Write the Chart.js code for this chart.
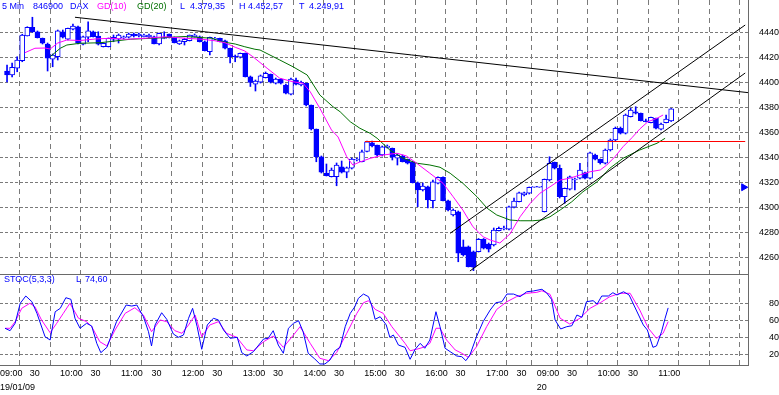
<!DOCTYPE html>
<html><head><meta charset="utf-8"><title>DAX 5 Min</title>
<script src="https://cdn.jsdelivr.net/npm/chart.js@4.4.1/dist/chart.umd.min.js"></script>
<style>
html,body{margin:0;padding:0;background:#fff;overflow:hidden}
#wrap{position:relative;width:779px;height:395px;background:#fff}
#c{position:absolute;left:0;top:0}
.t{position:absolute;font:9px/9px "Liberation Sans",Arial,sans-serif;white-space:pre;color:#0000ff}
</style></head><body>
<div id="wrap">
<canvas id="c" width="779" height="395"></canvas>
<span class="t" style="left:2px;top:2px">5 Min</span>
<span class="t" style="left:33px;top:2px">846900</span>
<span class="t" style="left:70px;top:2px">DAX</span>
<span class="t" style="left:97px;top:2px;color:#ff00ff">GD(10)</span>
<span class="t" style="left:137px;top:2px;color:#007000">GD(20)</span>
<span class="t" style="left:180px;top:2px">L</span>
<span class="t" style="left:190px;top:2px">4.379,35</span>
<span class="t" style="left:239px;top:2px">H</span>
<span class="t" style="left:248px;top:2px">4.452,57</span>
<span class="t" style="left:299px;top:2px">T</span>
<span class="t" style="left:309px;top:2px">4.249,91</span>
<span class="t" style="left:4px;top:275px">STOC(5,3,3)</span>
<span class="t" style="left:76px;top:275px">L</span>
<span class="t" style="left:85px;top:275px">74,60</span>
</div>
<script>
// ---------- data (5-minute bars, index 0 = 19/01/09 09:00) ----------
const opens = [4409.6,4406.4,4411.8,4417.8,4437.6,4444.6,4441.0,4435.8,4431.2,4419.0,
 4421.0,4441.0,4435.0,4443.0,4445.0,4431.0,4436.6,4441.0,4437.6,4429.0,
 4429.0,4435.0,4435.0,4436.2,4436.6,4439.2,4437.6,4437.0,4436.8,4437.0,
 4431.2,4435.6,4439.2,4436.6,4431.2,4433.0,4433.8,4437.0,4437.0,4433.0,
 4425.0,4435.0,4435.8,4433.8,4427.8,4421.6,4420.6,4423.8,4405.0,4399.0,
 4400.6,4404.2,4407.0,4399.8,4403.2,4398.4,4391.0,4402.4,4398.4,4399.8,
 4382.4,4363.2,4341.0,4327.8,4325.0,4325.0,4333.0,4328.6,4331.8,4338.4,
 4337.0,4345.2,4352.2,4350.4,4342.4,4348.4,4347.8,4339.8,4341.6,4339.0,
 4337.0,4320.2,4314.4,4317.0,4305.8,4319.8,4324.6,4305.8,4294.4,4297.0,
 4269.0,4269.0,4265.0,4265.0,4275.0,4271.2,4270.4,4281.8,4283.2,4283.0,
 4300.6,4305.0,4310.4,4311.8,4316.6,4316.6,4297.0,4322.4,4336.6,4331.8,
 4309.0,4315.0,4322.4,4323.8,4328.2,4323.8,4342.4,4339.0,4335.8,4346.4,
 4354.4,4363.8,4359.8,4373.0,4377.0,4375.8,4369.8,4368.2,4371.8,4363.0,
 4368.2,4369.6];
const highs = [4414.4,4416.0,4421.0,4439.0,4445.0,4452.6,4441.6,4436.0,4432.0,4423.2,
 4442.4,4442.4,4444.0,4447.2,4445.6,4437.6,4449.0,4441.6,4441.0,4432.0,
 4436.0,4438.4,4439.2,4437.6,4440.0,4440.0,4440.0,4439.2,4439.2,4437.6,
 4440.0,4441.0,4439.2,4436.8,4434.4,4435.8,4438.4,4439.2,4437.6,4433.6,
 4436.8,4436.5,4436.0,4434.4,4428.0,4422.4,4424.0,4424.0,4405.6,4402.4,
 4406.4,4408.8,4407.2,4404.0,4403.6,4399.2,4404.0,4404.0,4401.6,4400.0,
 4382.4,4363.2,4341.6,4335.2,4332.0,4336.0,4337.6,4332.8,4340.0,4340.0,
 4346.4,4353.6,4353.6,4350.4,4349.6,4350.4,4348.0,4343.2,4342.4,4339.2,
 4337.2,4320.8,4320.0,4317.6,4322.4,4325.0,4325.0,4306.4,4299.2,4297.6,
 4274.4,4269.6,4265.6,4275.6,4275.6,4272.0,4284.0,4284.8,4285.6,4301.6,
 4308.0,4312.8,4312.8,4316.8,4316.6,4316.6,4323.2,4341.0,4336.8,4334.4,
 4316.0,4325.6,4324.0,4335.8,4328.8,4344.8,4343.2,4339.2,4347.2,4355.2,
 4364.8,4364.8,4375.2,4379.8,4381.0,4376.0,4371.2,4372.8,4372.0,4368.0,
 4374.4,4379.6];
const lows = [4400.8,4404.8,4409.0,4417.0,4437.6,4440.5,4436.0,4431.2,4409.6,4413.0,
 4418.4,4436.0,4434.4,4442.4,4431.2,4430.4,4433.0,4436.8,4430.4,4428.8,
 4428.8,4433.0,4432.0,4435.2,4436.0,4436.8,4436.8,4436.8,4436.0,4431.2,
 4430.4,4435.4,4436.0,4432.0,4430.8,4430.4,4433.6,4436.8,4432.8,4425.6,
 4422.4,4434.5,4432.8,4427.2,4416.0,4417.0,4420.0,4404.8,4397.2,4393.6,
 4400.0,4404.0,4400.0,4399.2,4399.2,4391.2,4390.4,4398.4,4397.6,4381.6,
 4362.4,4337.0,4328.0,4325.6,4324.8,4317.8,4328.0,4324.2,4331.2,4337.6,
 4336.8,4344.8,4348.8,4341.6,4341.6,4348.0,4338.4,4334.4,4336.8,4335.2,
 4320.0,4301.0,4313.6,4300.0,4300.0,4319.2,4305.6,4297.6,4293.6,4257.0,
 4261.6,4252.8,4249.9,4264.8,4267.2,4264.8,4269.6,4281.6,4282.4,4282.4,
 4300.0,4304.8,4309.6,4311.2,4316.6,4316.6,4296.8,4321.6,4331.2,4308.0,
 4303.8,4314.4,4314.4,4323.2,4323.2,4323.2,4338.4,4335.2,4335.2,4345.6,
 4353.6,4359.2,4359.2,4372.8,4375.2,4369.6,4368.8,4368.0,4363.2,4362.4,
 4368.0,4369.2];
const closes = [4406.4,4412.6,4418.4,4438.4,4444.6,4441.0,4436.2,4431.8,4419.8,4422.4,
 4441.8,4436.6,4443.8,4445.6,4431.8,4437.0,4441.8,4437.0,4431.0,4431.8,
 4435.8,4436.6,4438.4,4436.8,4439.2,4437.6,4439.2,4438.4,4438.4,4431.2,
 4439.8,4436.4,4436.2,4432.2,4433.8,4435.0,4438.4,4438.4,4433.0,4425.8,
 4436.6,4435.8,4433.0,4427.8,4421.0,4420.8,4423.8,4405.0,4400.4,4401.6,
 4405.8,4407.8,4400.6,4403.2,4399.8,4391.8,4403.2,4399.0,4400.6,4382.4,
 4363.2,4341.0,4328.6,4325.8,4330.4,4334.4,4328.6,4332.2,4339.2,4339.2,
 4345.0,4353.0,4349.6,4342.4,4349.0,4349.6,4340.6,4342.4,4337.0,4335.8,
 4320.2,4314.4,4317.6,4306.4,4321.0,4324.6,4305.8,4298.4,4298.4,4263.8,
 4262.4,4253.0,4252.6,4275.0,4267.8,4267.0,4282.4,4283.8,4284.0,4301.0,
 4305.6,4312.2,4312.2,4316.6,4316.6,4316.6,4323.0,4335.8,4331.8,4309.0,
 4315.8,4325.0,4323.2,4330.4,4323.8,4344.2,4339.0,4336.2,4346.4,4354.4,
 4363.8,4359.8,4374.4,4378.4,4375.8,4369.8,4369.0,4372.6,4363.8,4367.2,
 4371.2,4379.35];

// GD(10) / GD(20) (bar position, value)
const ma10Bars = [3.5,5.5,7.5,8.5,10.0,11.8,14.4,17.4,20.3,23.7,27.2,31.2,35.1,38.5,41.0,43.0,45.0,46.9,48.5,51.3,53.8,56.4,58.4,59.8,61.7,64.0,65.3,67.0,68.2,69.6,71.6,74.2,76.9,78.8,80.8,83.4,86.0,88.0,89.9,91.9,93.9,95.3,97.2,99.2,101.2,103.2,105.1,107.1,109.1,111.0,113.0,115.0,117.0,118.3,119.9,121.5,123.3,124.8,126.4,128.2,129.4];
const ma10Vals = [4424.2,4427.8,4428.0,4427.2,4432.0,4434.4,4434.0,4435.2,4435.8,4435.0,4435.8,4437.0,4435.8,4435.0,4433.8,4432.2,4428.6,4425.6,4421.0,4411.8,4403.8,4401.0,4399.8,4393.0,4379.8,4362.4,4356.8,4341.0,4334.4,4336.8,4339.7,4342.4,4343.8,4341.6,4335.8,4327.8,4319.8,4309.0,4298.4,4285.0,4277.0,4274.4,4272.0,4279.2,4293.0,4303.8,4311.8,4317.0,4322.4,4323.8,4326.4,4329.0,4330.4,4334.4,4341.0,4349.0,4356.4,4363.2,4369.0,4371.8,4374.4];
const ma20Bars = [8.5,10.5,11.8,14.4,18.3,24.3,30.6,35.1,40.4,42.4,45.0,46.9,48.9,49.9,53.8,56.4,59.2,61.7,64.3,65.7,67.7,69.6,71.6,73.0,75.5,78.1,80.9,83.4,85.4,87.4,89.9,92.7,94.7,96.6,99.2,101.2,103.7,105.5,107.1,109.1,111.4,113.6,116.4,118.9,121.5,124.8,128.2,129.8];
const ma20Vals = [4421.0,4427.8,4430.4,4431.8,4432.2,4435.0,4436.2,4437.2,4435.8,4433.0,4431.2,4429.0,4427.0,4426.4,4418.4,4413.0,4406.4,4390.4,4381.0,4377.0,4369.0,4363.8,4359.8,4355.8,4346.4,4339.8,4335.8,4334.4,4332.6,4327.8,4319.8,4309.0,4299.8,4294.4,4290.4,4289.8,4289.8,4290.4,4293.0,4298.4,4305.0,4313.0,4321.0,4331.8,4339.8,4346.4,4351.8,4355.8];

// STOC(5,3,3): %K (blue) and %D (magenta)
const stocKBars = [-0.4,0.6,1.6,2.6,3.7,4.9,5.9,7.5,8.5,9.5,10.5,11.6,12.6,13.4,14.4,15.7,16.7,17.7,18.5,19.7,21.6,23.5,24.6,25.6,26.9,27.9,28.5,29.2,30.5,31.5,32.8,33.8,34.8,35.8,36.6,37.5,38.4,39.5,40.7,41.7,42.7,44.0,45.4,46.3,47.3,48.6,50.6,51.5,52.5,53.5,54.5,55.5,56.5,57.5,58.4,59.4,60.7,61.7,62.7,63.7,64.7,65.7,66.7,67.7,68.6,69.3,70.3,71.3,71.9,72.6,73.6,74.8,75.5,76.2,77.2,78.5,79.5,80.5,81.5,82.4,83.4,84.6,85.4,86.4,87.4,88.7,89.7,90.5,91.3,92.6,93.9,95.3,96.4,97.6,98.6,99.9,101.2,102.5,103.8,105.5,106.4,107.4,108.1,109.2,110.4,111.4,112.4,113.4,114.3,115.6,116.4,117.3,118.6,119.5,120.3,121.6,122.7,124.1,125.5,126.3,127.4,128.1,129.1,129.8,130.4];
const stocKVals = [50.6,47.8,56.5,80,88.6,81.9,68.2,40.7,36.8,70.1,74.1,86.6,84.7,62.4,50.6,56.5,53.3,32.9,21.9,28.2,58.4,78,76.8,78,64.2,46.6,29.8,54.5,68.9,61.2,43.9,40,42.7,62.4,74.1,52.5,25.9,54.5,62.4,60.4,48.6,38.8,40,21.9,18,23.1,38,38.8,47.8,30.9,21.2,50.6,56.5,59.5,46.6,21.2,14.5,8.6,8.6,13.3,24.2,28.2,52.5,68.2,76,85.9,90.9,87.8,78,61.2,64.2,54.5,40,42.7,30.9,28.2,14.1,25.9,32.9,27.1,36.8,70.1,52.5,27.1,23.1,18,17.2,12.5,19.2,40.7,58.4,72.1,80.7,81.9,90.9,90.9,87.8,93.6,94.5,96.5,92.5,84.7,60.4,49.8,52.5,53.6,66.2,63.5,81.9,83.1,79.2,88.6,88.6,92.5,89.8,93.6,89.8,72.1,54.5,48.6,28.2,29.8,46.6,62.4,74.6];
const stocDBars = [-0.4,0.6,1.6,2.9,4.5,5.5,6.8,8.5,9.8,11.1,12.4,14.1,15.7,16.7,18.3,19.7,21.3,23.3,25.2,26.9,28.5,30.2,31.5,33.1,34.5,35.8,37.1,38.4,40.0,41.7,43.3,45.3,47.3,48.6,50.6,52.5,54.5,56.5,57.8,59.8,61.7,63.4,65.0,67.0,69.0,70.3,71.3,72.6,74.2,75.9,77.2,78.5,79.5,80.8,82.1,83.4,84.6,85.4,86.7,88.4,89.7,91.0,92.6,94.6,96.6,98.6,100.5,102.5,104.5,105.5,107.1,109.1,111.0,113.0,115.0,117.0,118.9,120.9,122.9,124.8,126.5,128.1,129.4,130.4];
const stocDVals = [50.6,50.6,58.4,74.1,80,76,60.4,45.4,56.5,68.2,80,62.4,58.4,52.5,34.8,29.8,48.6,68.2,74.8,66.2,46.6,60.4,58.4,47.8,44.7,54.5,66.2,40.7,54.5,58.4,44.7,40,25.1,24.2,34.8,41.5,28.2,42.7,52.5,32.9,15.3,12.5,21.9,44.7,68.2,80.7,83.1,72.9,68.2,52.5,42.7,32.9,24.2,25.9,28.2,32.9,50.6,50.6,36.8,25.1,21.2,16.5,28.9,52.5,72.9,81.9,87.8,91.8,92.9,94.8,90.6,62.4,55.6,62.4,74.1,80.7,87.8,91.8,91.8,72.1,50.6,38.8,44.7,58.4];

// drawn lines (bar position, price)
const trendBars = [13.4, 146.15];  const trendPrices = [4452.6, 4392.3];
const upperBars = [87.4, 145.6];   const upperPrices = [4279.8, 4446.4];
const lowerBars = [91.3, 145.6];   const lowerPrices = [4249.6, 4408.0];
const redBars   = [70.6, 145.6];   const redPrices   = [4353.2, 4353.2];
const markBars  = [145.3];         const markPrices  = [4316.6];

// axes
const priceTicks = [4260,4280,4300,4320,4340,4360,4380,4400,4420,4440];
const stocTicks = [20,40,60,80];
const gridBars = [5.5,11.5,17.5,23.5,29.5,35.5,41.5,47.5,53.5,59.5,65.5,71.5,77.5,83.5,89.5,95.5,101.5,105.5,111.5,117.5,123.5,129.5,135.5,141.5];
const timeLabels = ["09:00","30","10:00","30","11:00","30","12:00","30","13:00","30","14:00","30","15:00","30","16:00","30","17:00","30","09:00","30","10:00","30","11:00"];
const timeLabelBars = [-0.5,5.5,11.5,17.5,23.5,29.5,35.5,41.5,47.5,53.5,59.5,65.5,71.5,77.5,83.5,89.5,95.5,101.5,105.5,111.5,117.5,123.5,129.5];
const dateLabels = ["19/01/09","20"];
const dateLabelBars = [-0.5,105.5];

// ---------- chart ----------
const XMIN = -1.388, XMAX = 146.15;
const LABEL_SHIFT = 1.03;
const BLUE = '#0000ff', MAG = '#ff00ff', GREEN = '#007000', GRID = '#7a7a7a', FRAME = '#6a6a6a';
const FONT = '"Liberation Sans", Arial, sans-serif';
Chart.defaults.font.family = FONT;
Chart.defaults.font.size = 9;
Chart.defaults.color = '#000';

const pts = (xs, ys) => xs.map((x, i) => ({x: x, y: ys[i]}));
const idx = opens.map((_, i) => i);
const lineDs = (data, color, order, axis) => ({type: 'line', data: data, borderColor: color, borderWidth: 1,
  pointRadius: 0, tension: 0, fill: false, order: order, xAxisID: 'x', yAxisID: axis || 'y'});

const paneSeparator = {
  id: 'paneSeparator',
  beforeDatasetsDraw(chart) {
    const ctx = chart.ctx, a = chart.chartArea;
    const yy = Math.round(chart.scales.ys.top) + 0.5;
    ctx.save(); ctx.strokeStyle = FRAME; ctx.lineWidth = 1;
    ctx.beginPath(); ctx.moveTo(a.left, yy); ctx.lineTo(a.right, yy); ctx.stroke();
    ctx.restore();
  }
};
const noPad = s => { s.paddingLeft = 0; s.paddingRight = 0; s.paddingTop = 0; s.paddingBottom = 0; };

new Chart(document.getElementById('c'), {
  type: 'bar',
  data: {datasets: [
    {type: 'bar', data: idx.map(i => ({x: i, y: [lows[i], highs[i]]})), backgroundColor: BLUE,
     barThickness: 1, grouped: false, order: 10, xAxisID: 'x', yAxisID: 'y'},
    {type: 'bar', data: idx.map(i => ({x: i, y: [opens[i], closes[i]]})),
     backgroundColor: c => closes[c.dataIndex] < opens[c.dataIndex] ? BLUE : '#ffffff',
     borderColor: BLUE, borderWidth: 1, borderSkipped: false, barThickness: 5, minBarLength: 1,
     grouped: false, order: 9, xAxisID: 'x', yAxisID: 'y'},
    lineDs(pts(ma20Bars, ma20Vals), GREEN, 6),
    lineDs(pts(ma10Bars, ma10Vals), MAG, 5),
    lineDs(pts(trendBars, trendPrices), '#000000', 4),
    lineDs(pts(upperBars, upperPrices), '#000000', 4),
    lineDs(pts(lowerBars, lowerPrices), '#000000', 4),
    lineDs(pts(redBars, redPrices), '#ff0000', 4),
    lineDs(pts(stocDBars, stocDVals), MAG, 3, 'ys'),
    lineDs(pts(stocKBars, stocKVals), BLUE, 2, 'ys'),
    {type: 'line', data: pts(markBars, markPrices), showLine: false, pointStyle: 'triangle', rotation: 90,
     pointRadius: 4, backgroundColor: BLUE, borderColor: BLUE, borderWidth: 1, order: 1, xAxisID: 'x', yAxisID: 'y'}
  ]},
  options: {
    responsive: false, devicePixelRatio: 1, animation: false, events: [],
    layout: {padding: {left: 0, right: 0, top: 0, bottom: 1.5}, autoPadding: false},
    plugins: {legend: {display: false}, tooltip: {enabled: false}},
    scales: {
      x: {type: 'linear', min: XMIN, max: XMAX, position: 'bottom', weight: 0, offset: false,
          afterBuildTicks: s => { s.ticks = gridBars.map(v => ({value: v})); },
          ticks: {display: false}, grid: {color: GRID, lineWidth: 1, drawTicks: false},
          border: {display: true, color: FRAME, width: 1, dash: [5, 4]},
          afterFit: s => { s.height = 0; noPad(s); }},
      xl: {type: 'linear', min: XMIN, max: XMAX, position: 'bottom', weight: 1, offset: false,
          afterBuildTicks: s => { s.ticks = timeLabelBars.map(v => ({value: Math.max(XMIN, v - LABEL_SHIFT)})); },
          ticks: {autoSkip: false, maxRotation: 0, minRotation: 0, align: 'start', padding: 3.5,
                  font: {size: 9, lineHeight: '10px'}, callback: (v, i) => timeLabels[i]},
          grid: {display: false, drawTicks: false}, border: {display: false}, afterFit: noPad},
      xd: {type: 'linear', min: XMIN, max: XMAX, position: 'bottom', weight: 2, offset: false,
          afterBuildTicks: s => { s.ticks = dateLabelBars.map(v => ({value: Math.max(XMIN, v - LABEL_SHIFT)})); },
          ticks: {autoSkip: false, maxRotation: 0, minRotation: 0, align: 'start', padding: 0.75,
                  font: {size: 9, lineHeight: '10px'}, callback: (v, i) => dateLabels[i]},
          grid: {display: false, drawTicks: false}, border: {display: false}, afterFit: noPad},
      y: {type: 'linear', position: 'right', stack: 'panes', stackWeight: 274, min: 4247.2, max: 4466.4,
          afterBuildTicks: s => { s.ticks = priceTicks.map(v => ({value: v})); },
          ticks: {autoSkip: false, crossAlign: 'far', padding: 7, callback: v => String(v)},
          grid: {color: GRID, lineWidth: 1, drawTicks: false},
          border: {display: true, color: FRAME, width: 1, dash: [3, 2]},
          afterFit: s => { s.width = 31; noPad(s); }},
      ys: {type: 'linear', position: 'right', stack: 'panes', stackWeight: 91, min: 7.4, max: 114.5,
          afterBuildTicks: s => { s.ticks = stocTicks.map(v => ({value: v})); },
          ticks: {autoSkip: false, crossAlign: 'far', padding: 16.5, callback: v => String(v)},
          grid: {color: GRID, lineWidth: 1, drawTicks: false},
          border: {display: true, color: FRAME, width: 1, dash: [3, 2]},
          afterFit: s => { s.width = 31; noPad(s); }}
    }
  },
  plugins: [paneSeparator]
});
</script>
</body></html>
